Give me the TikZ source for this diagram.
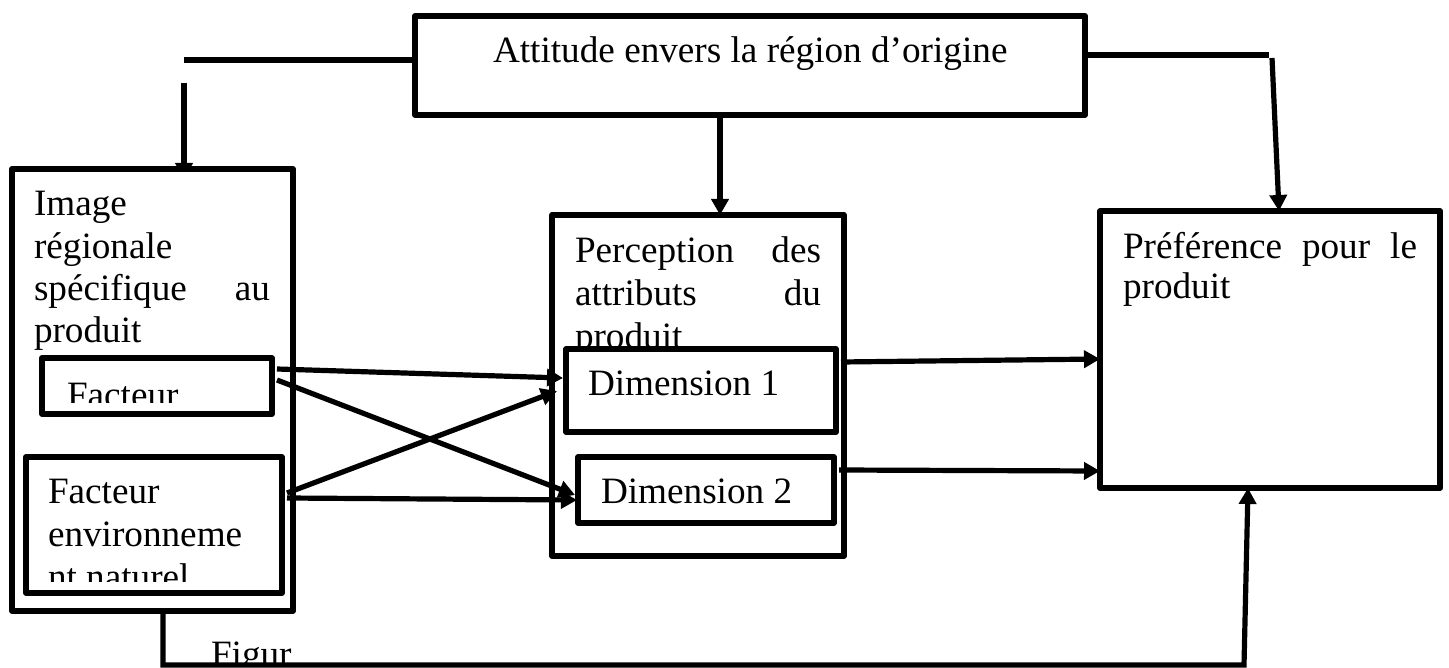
\documentclass[tikz,border=0pt]{standalone}
\usepackage{fontspec}
\setmainfont{Liberation Serif}
\usetikzlibrary{arrows.meta}
\begin{document}
\begin{tikzpicture}[x=0.5pt,y=-0.5pt,
  box/.style={draw, line width=2.9pt, inner sep=0pt, outer sep=0pt, anchor=north west, line join=round},
  wbox/.style={box, fill=white},
  conn/.style={line width=2.6pt},
  arr/.style={conn, -{Triangle[length=8pt,width=8.5pt]}},
  lbl/.style={anchor=base west, inner sep=0pt, outer sep=0pt, font=\fontsize{18.6pt}{21pt}\selectfont}]
\useasboundingbox (0,0) rectangle (1449,668);

% arrow into the regional image box (tip hidden by the box)
\coordinate (c2) at (184,83);
\path (c2) -- (184,169) coordinate (c2t);
\draw[arr] (c2) -- ([yshift=-5pt]c2t);

% boxes and texts
\node[wbox, minimum width=335pt, minimum height=49.5pt] (att) at (415,16) {};
\node[lbl] (attT) at (493,63) {Attitude envers la région d’origine};

\node[wbox, minimum width=140.5pt, minimum height=221pt] (img) at (12,169) {};
\node[lbl] (imgT1) at (34,215) {Image};
\node[lbl] (imgT2) at (34,258) {régionale};
\node[lbl] (imgT3) at (34,300) {\makebox[118pt]{spécifique\hfill au}};
\node[lbl] (imgT4) at (34,342) {produit};

\node[box, minimum width=115pt, minimum height=28pt] (fac1) at (42,358) {};
\begin{scope}
  \clip (45,362) rectangle (268,402);
  \node[lbl] (fac1T) at (67,407) {Facteur};
\end{scope}

\node[box, minimum width=128pt, minimum height=68pt] (fac2) at (26,457) {};
\node[lbl] (fac2T1) at (48,503) {Facteur};
\node[lbl] (fac2T2) at (48,546) {environneme};
\begin{scope}
  \clip (30,555) rectangle (278,581);
  \node[lbl] (fac2T3) at (48,589) {nt naturel};
\end{scope}

\node[box, minimum width=146pt, minimum height=170.5pt] (perc) at (552,215) {};
\node[lbl] (percT1) at (575,262) {\makebox[123pt]{Perception\hfill des}};
\node[lbl] (percT2) at (575,305) {\makebox[123pt]{attributs\hfill du}};
\node[lbl] (percT3) at (575,348) {produit};

\node[wbox, minimum width=135pt, minimum height=41.5pt] (dim1) at (566,349) {};
\node[lbl] (dim1T) at (588,395) {Dimension 1};
\node[wbox, minimum width=128pt, minimum height=33pt] (dim2) at (578,457) {};
\node[lbl] (dim2T) at (601,503) {Dimension 2};

\node[wbox, minimum width=170pt, minimum height=138.5pt] (pref) at (1100,211) {};
\node[lbl] (prefT1) at (1123,258) {\makebox[147pt]{Préférence\hfill pour\hfill le}};
\node[lbl] (prefT2) at (1123,298) {produit};

\begin{scope}
  \clip (200,630) rectangle (330,663);
  \node[lbl] (figT) at (211,666) {Figur};
\end{scope}

% connectors
\coordinate (c1) at (184,60);
\draw[conn] ([yshift=2.75pt]att.west) -- (c1);

\draw[arr] ([xshift=-15pt]att.south) -- ([xshift=11pt]perc.north);

\coordinate (c3) at (1269,55);
\coordinate (c4) at (1272,58);
\draw[conn] ([yshift=5.25pt]att.east) -- (c3);
\draw[arr] (c4) -- ([xshift=4.5pt]pref.north);

\draw[arr] ([xshift=2.5pt,yshift=8.5pt]fac1.east) -- ([xshift=-1.5pt,yshift=6.25pt]dim1.west);
\draw[arr] ([xshift=2.5pt,yshift=3pt]fac1.east) -- ([xshift=-1.5pt,yshift=-2.5pt]dim2.west);
\draw[arr] ([xshift=2.5pt,yshift=16pt]fac2.east) -- ([xshift=-4.5pt,yshift=-0.25pt]dim1.west);
\draw[arr] ([xshift=2.5pt,yshift=13.5pt]fac2.east) -- ([xshift=-0.5pt,yshift=-5pt]dim2.west);

\draw[arr] ([xshift=2.5pt,yshift=14.25pt]dim1.east) -- ([yshift=-4.75pt]pref.west);
\draw[arr] ([xshift=2.5pt,yshift=10pt]dim2.east) -- ([yshift=-60.75pt]pref.west);

\coordinate (c5) at (163,665);
\coordinate (c6) at (1244,665);
\draw[arr] ([xshift=5.25pt]img.south) -- (c5) -- (c6) -- ([xshift=-11pt]pref.south);
\end{tikzpicture}
\end{document}
